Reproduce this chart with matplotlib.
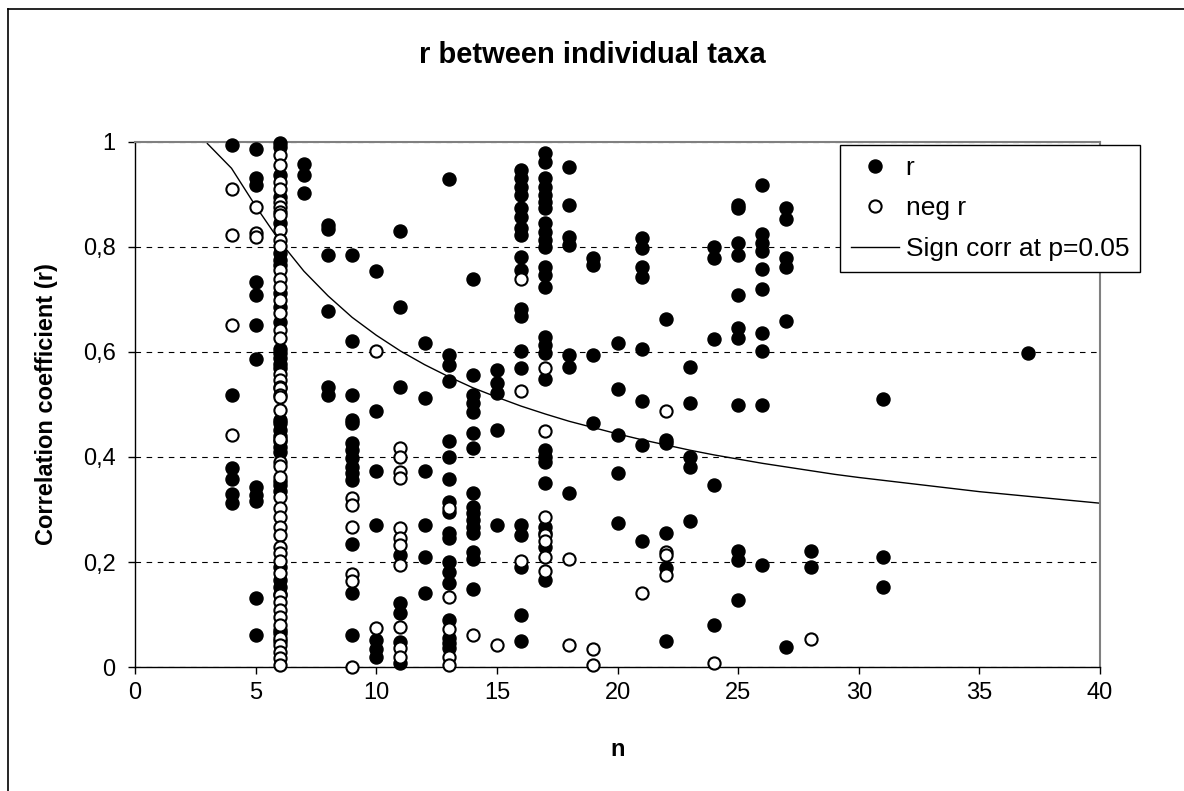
import matplotlib
matplotlib.use("Agg")
import matplotlib.pyplot as plt
from matplotlib.lines import Line2D
from matplotlib.ticker import FuncFormatter, MultipleLocator

plt.rcParams['font.family'] = ['Liberation Sans', 'DejaVu Sans']

# r values per number of observations n (filled markers)
r_pos = {
    4: [0.994, 0.518, 0.379, 0.358, 0.330, 0.312],
    5: [0.987, 0.931, 0.918, 0.733, 0.709, 0.651, 0.587, 0.343, 0.328, 0.316, 0.131, 0.061],
    6: [0.998, 0.991, 0.937, 0.896, 0.845, 0.788, 0.775, 0.766, 0.712, 0.686, 0.658, 0.605,
        0.598, 0.588, 0.578, 0.570, 0.470, 0.464, 0.451, 0.440, 0.430, 0.420, 0.410, 0.355,
        0.347, 0.335, 0.190, 0.166, 0.153, 0.140, 0.070, 0.064, 0.050],
    7: [0.958, 0.937, 0.903],
    8: [0.842, 0.835, 0.785, 0.678, 0.533, 0.518],
    9: [0.785, 0.621, 0.518, 0.470, 0.464, 0.426, 0.413, 0.398, 0.381, 0.369, 0.356, 0.234,
        0.141, 0.061],
    10: [0.754, 0.488, 0.373, 0.270, 0.051, 0.035, 0.020],
    11: [0.830, 0.686, 0.533, 0.213, 0.122, 0.102, 0.048, 0.008],
    12: [0.617, 0.512, 0.373, 0.270, 0.210, 0.141],
    13: [0.929, 0.594, 0.575, 0.545, 0.430, 0.400, 0.358, 0.314, 0.295, 0.255, 0.245, 0.200,
         0.181, 0.160, 0.090, 0.055, 0.045, 0.036],
    14: [0.739, 0.556, 0.518, 0.502, 0.486, 0.446, 0.417, 0.331, 0.305, 0.293, 0.280, 0.267,
         0.255, 0.219, 0.206, 0.149],
    15: [0.566, 0.541, 0.521, 0.451, 0.270],
    16: [0.947, 0.931, 0.915, 0.899, 0.874, 0.858, 0.836, 0.823, 0.781, 0.756, 0.682, 0.669,
         0.602, 0.570, 0.270, 0.251, 0.191, 0.099, 0.050],
    17: [0.979, 0.962, 0.931, 0.915, 0.899, 0.886, 0.874, 0.846, 0.829, 0.813, 0.800, 0.762,
         0.747, 0.724, 0.629, 0.613, 0.598, 0.549, 0.413, 0.400, 0.390, 0.350, 0.267, 0.255,
         0.229, 0.166],
    18: [0.952, 0.880, 0.819, 0.804, 0.594, 0.571, 0.331],
    19: [0.779, 0.766, 0.594, 0.464],
    20: [0.617, 0.529, 0.442, 0.369, 0.274],
    21: [0.817, 0.798, 0.762, 0.743, 0.606, 0.507, 0.423, 0.240],
    22: [0.663, 0.432, 0.426, 0.255, 0.189, 0.050],
    23: [0.571, 0.503, 0.400, 0.381, 0.278],
    24: [0.800, 0.779, 0.625, 0.347, 0.080],
    25: [0.880, 0.874, 0.808, 0.785, 0.709, 0.646, 0.627, 0.499, 0.221, 0.204, 0.128],
    26: [0.918, 0.825, 0.808, 0.792, 0.758, 0.720, 0.636, 0.602, 0.499, 0.194],
    27: [0.874, 0.853, 0.779, 0.762, 0.659, 0.038],
    28: [0.221, 0.190],
    31: [0.510, 0.210, 0.152],
    37: [0.598],
}

# absolute value of negative r (open markers)
r_neg = {
    4: [0.910, 0.823, 0.651, 0.442],
    5: [0.876, 0.826, 0.820],
    6: [0.975, 0.956, 0.924, 0.910, 0.886, 0.877, 0.867, 0.861, 0.832, 0.813, 0.801, 0.756,
        0.740, 0.724, 0.699, 0.674, 0.642, 0.626, 0.559, 0.547, 0.534, 0.531, 0.518, 0.515,
        0.490, 0.434, 0.391, 0.382, 0.362, 0.324, 0.302, 0.286, 0.267, 0.251, 0.229, 0.217,
        0.201, 0.180, 0.137, 0.124, 0.109, 0.096, 0.080, 0.055, 0.042, 0.029, 0.017, 0.004],
    9: [0.322, 0.309, 0.267, 0.177, 0.164, 0.000],
    10: [0.602, 0.074],
    11: [0.417, 0.400, 0.372, 0.360, 0.265, 0.246, 0.232, 0.194, 0.076, 0.036, 0.019],
    13: [0.302, 0.133, 0.072, 0.019, 0.004],
    14: [0.061],
    15: [0.042],
    16: [0.739, 0.526, 0.202],
    17: [0.570, 0.450, 0.286, 0.251, 0.240, 0.210, 0.183],
    18: [0.205, 0.042],
    19: [0.034, 0.004],
    21: [0.141],
    22: [0.488, 0.219, 0.213, 0.175],
    24: [0.008],
    28: [0.053],
}

# critical r at p=0.05
crit_n = [3, 4, 5, 6, 7, 8, 9, 10, 11, 12, 13, 14, 15, 16, 17, 18, 19, 20, 21, 22, 23, 24,
          25, 26, 27, 28, 29, 30, 35, 40]
crit_r = [0.997, 0.950, 0.878, 0.811, 0.754, 0.707, 0.666, 0.632, 0.602, 0.576, 0.553, 0.532,
          0.514, 0.497, 0.482, 0.468, 0.456, 0.444, 0.433, 0.423, 0.413, 0.404, 0.396, 0.388,
          0.381, 0.374, 0.367, 0.361, 0.334, 0.312]


def flatten(d):
    xs, ys = [], []
    for n, vals in d.items():
        xs += [n] * len(vals)
        ys += vals
    return xs, ys


W, H = 1184, 791
fig = plt.figure(figsize=(W / 100, H / 100), dpi=100)
ax = fig.add_axes([135 / W, 1 - 667 / H, (1100 - 135) / W, (667 - 142) / H])

px, py = flatten(r_pos)
nx, ny = flatten(r_neg)
ax.plot(px, py, 'o', ms=9.4, mfc='black', mec='black', mew=1, label='r', clip_on=False, zorder=3)
ax.plot(nx, ny, 'o', ms=8.8, mfc='white', mec='black', mew=1.5, label='neg r', clip_on=False, zorder=4)
ax.plot(crit_n, crit_r, color='black', lw=1, label='Sign corr at p=0.05', zorder=2)

ax.set_xlim(0, 40)
ax.set_ylim(0, 1)
ax.xaxis.set_major_locator(MultipleLocator(5))
ax.yaxis.set_major_locator(MultipleLocator(0.2))
ax.yaxis.set_major_formatter(FuncFormatter(lambda v, p: ('%g' % round(v, 1)).replace('.', ',')))
ax.tick_params(direction='out', length=5, width=1, labelsize=17, colors='black')
ax.tick_params(axis='x', pad=6)
ax.tick_params(axis='y', pad=9)

ax.grid(axis='y', color='black', linestyle=(0, (5, 5)), linewidth=0.8)
ax.set_axisbelow(True)

for side in ['top', 'right']:
    ax.spines[side].set_color('#808080')
    ax.spines[side].set_linewidth(1.5)
for side in ['left', 'bottom']:
    ax.spines[side].set_color('black')
    ax.spines[side].set_linewidth(1)

ax.set_xlabel('n', fontsize=17, fontweight='bold')
ax.set_ylabel('Correlation coefficient (r)', fontsize=17, fontweight='bold')
ax.xaxis.set_label_coords(0.5, -0.135)
ax.yaxis.set_label_coords(-0.08, 0.5)

fig.text(0.5, 1 - 55 / H, 'r between individual taxa', fontsize=21, fontweight='bold',
         ha='center', va='center')

leg = ax.legend(loc='upper left', bbox_to_anchor=(840 / W, 1 - 145 / H),
                bbox_transform=fig.transFigure, borderaxespad=0, fontsize=19,
                frameon=True, fancybox=False, framealpha=1, edgecolor='black',
                handlelength=1.8, handletextpad=0.27, labelspacing=0.62, borderpad=0.42)
leg.get_frame().set_linewidth(1)

# outer chart border
fig.add_artist(Line2D([8 / W, 1], [1 - 9 / H, 1 - 9 / H], color='black', lw=1.2))
fig.add_artist(Line2D([8 / W, 8 / W], [0, 1 - 9 / H], color='black', lw=1.2))

fig.savefig('out.png', dpi=100)
